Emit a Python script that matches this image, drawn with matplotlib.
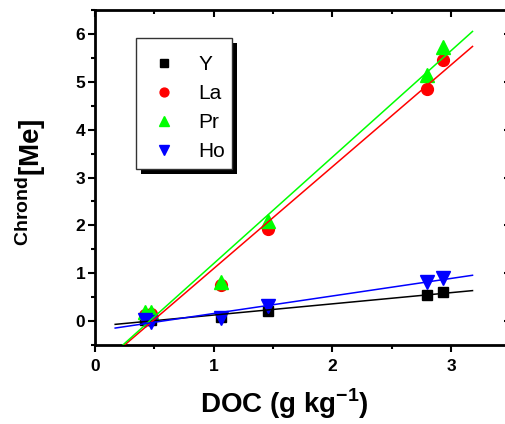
import matplotlib
matplotlib.use("Agg")
import matplotlib.pyplot as plt
import numpy as np
from matplotlib.ticker import MultipleLocator
from matplotlib.patches import Rectangle

plt.rcParams['font.family'] = ['Liberation Sans', 'DejaVu Sans']
plt.rcParams['mathtext.fontset'] = 'custom'
plt.rcParams['mathtext.bf'] = 'Liberation Sans:bold'
plt.rcParams['mathtext.rm'] = 'Liberation Sans'

doc = [0.42, 0.47, 1.06, 1.46, 2.80, 2.93]
y_Y = [0.03, 0.02, 0.08, 0.21, 0.55, 0.60]
y_La = [0.13, 0.15, 0.75, 1.93, 4.85, 5.46]
y_Pr = [0.20, 0.20, 0.82, 2.10, 5.15, 5.73]
y_Ho = [0.03, -0.02, 0.06, 0.31, 0.81, 0.91]
fit_x = [0.17, 3.18]

series = [
    ("Y", y_Y, "s", "black", 7),
    ("La", y_La, "o", "red", 8.5),
    ("Pr", y_Pr, "^", "#00ff00", 10),
    ("Ho", y_Ho, "v", "blue", 10),
]


def main():
    fig = plt.figure(figsize=(5.06, 4.24), dpi=100)
    ax = fig.add_axes([95 / 506, 1 - 345 / 424, 415.5 / 506, 335 / 424])

    for name, ys, m, c, ms in series:
        ax.plot(doc, ys, m, color=c, ms=ms, mec=c, label=name, zorder=3)
    for name, ys, m, c, ms in series:
        k, b = np.polyfit(doc, ys, 1)
        xx = np.array(fit_x)
        ax.plot(xx, k * xx + b, '-', color=c, lw=1.1, zorder=4)

    ax.set_xlim(0, 3.5)
    ax.set_ylim(-0.5, 6.5)
    ax.xaxis.set_major_locator(MultipleLocator(1))
    ax.xaxis.set_minor_locator(MultipleLocator(0.5))
    ax.yaxis.set_major_locator(MultipleLocator(1))
    ax.yaxis.set_minor_locator(MultipleLocator(0.5))
    ax.tick_params(which='both', direction='out', width=1.5, labelsize=12.5)
    ax.tick_params(axis='x', pad=5)
    ax.tick_params(axis='y', pad=2)
    ax.tick_params(which='major', length=5)
    ax.tick_params(which='minor', length=3)
    ax.tick_params(top=True, right=True, which='both')
    for t in ax.get_xticklabels() + ax.get_yticklabels():
        t.set_fontweight('bold')
    # top and right ticks point inwards
    for tl in ax.xaxis.get_ticklines(minor=False)[1::2] + ax.xaxis.get_ticklines(minor=True)[1::2]:
        tl.set_marker(3)
    for tl in ax.yaxis.get_ticklines(minor=False)[1::2] + ax.yaxis.get_ticklines(minor=True)[1::2]:
        tl.set_marker(0)
    for s in ax.spines.values():
        s.set_linewidth(2)

    ax.set_xlabel(r'DOC (g kg$^{\mathbf{-1}}$)', fontsize=20, fontweight='bold')
    ax.xaxis.set_label_coords(0.455, -0.125)
    ax.set_ylabel(r'$^{\mathbf{Chrond}}\mathbf{[Me]}$', fontsize=20)
    ax.yaxis.set_label_coords(-0.113, 0.487)

    # legend box with a solid offset shadow, drawn by hand
    bx, by, bw, bh = 0.0987, 0.525, 0.231, 0.391
    ax.add_patch(Rectangle((bx + 0.012, by - 0.015), bw, bh, transform=ax.transAxes,
                           facecolor='black', edgecolor='none', zorder=5, clip_on=False))
    ax.add_patch(Rectangle((bx, by), bw, bh, transform=ax.transAxes,
                           facecolor='white', edgecolor='#333333', lw=1,
                           zorder=5.1, clip_on=False))
    leg = ax.legend(loc='upper left', bbox_to_anchor=(0.099, 0.8896),
                    frameon=False, fontsize=15, handletextpad=0.75, borderpad=0.4,
                    labelspacing=0.48, markerscale=0.75,
                    handlelength=1.83, borderaxespad=0)
    leg.set_zorder(6)

    fig.savefig("out.png", dpi=100)


if __name__ == '__main__':
    main()
